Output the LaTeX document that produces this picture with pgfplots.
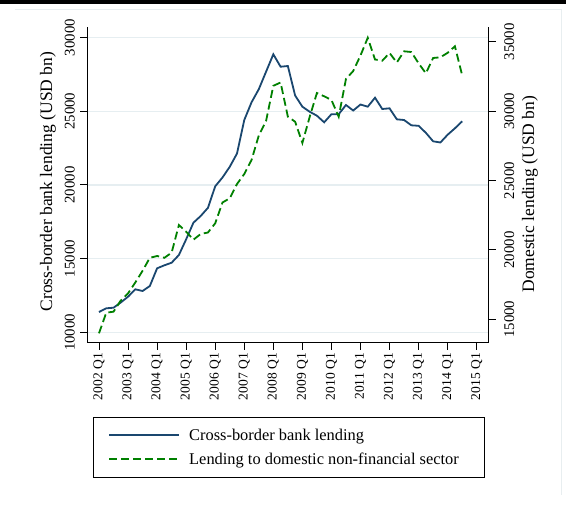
\documentclass[border=0pt]{standalone}
\usepackage{pgfplots}
\pgfplotsset{compat=1.18}
\usepackage{pgfplotstable}
\usepackage{fontspec}
\setmainfont{Liberation Serif}
\definecolor{navy}{RGB}{26,71,111}
\definecolor{sgreen}{RGB}{0,128,0}
\definecolor{gridc}{RGB}{230,238,241}
\definecolor{framec}{RGB}{232,238,240}

\pgfplotstableread{
q blue green
0 11377 13991
1 11628 15476
2 11669 15548
3 12022 16355
4 12415 16873
5 12917 17651
6 12802 18494
7 13141 19431
8 14342 19561
9 14545 19431
10 14722 19799
11 15244 21794
12 16309 21312
13 17435 20735
14 17890 21146
15 18446 21254
16 19905 21917
17 20502 23415
18 21228 23718
19 22130 24748
20 24402 25469
21 25603 26478
22 26492 28243
23 27679 29287
24 28860 31824
25 28018 32062
26 28066 29597
27 26065 29237
28 25305 27702
29 24965 29576
30 24694 31305
31 24246 31067
32 24796 30801
33 24796 29597
34 25420 32314
35 25047 32890
36 25454 34007
37 25305 35282
38 25915 33719
39 25149 33632
40 25196 34187
41 24450 33502
42 24402 34309
43 24043 34259
44 24009 33445
45 23534 32724
46 22957 33827
47 22876 33877
48 23405 34201
49 23839 34670
50 24314 32580
}\datatable

\begin{document}
\begin{tikzpicture}
\pgfplotsset{
  base/.style={
    scale only axis, width=401.4pt, height=316pt,
    at={(0,0)}, anchor=south west,
    xmin=-1.61, xmax=53.65,
    xtick={0,4,...,52},
    tick align=outside, major tick length=7pt,
    tick style={line width=0.9pt, black},
    axis line style={line width=0.9pt, black},
    /pgf/number format/assume math mode=true,
    /pgf/number format/1000 sep={},
    scaled y ticks=false,
  }
}
\begin{axis}[base,
  axis x line*=bottom, axis y line*=left,
  ymin=9295, ymax=30733, ytick={10000,15000,20000,25000,30000},
  ymajorgrids, grid style={gridc, line width=1.2pt},
  xticklabels={2002 Q1,2003 Q1,2004 Q1,2005 Q1,2006 Q1,2007 Q1,2008 Q1,2009 Q1,2010 Q1,2011 Q1,2012 Q1,2013 Q1,2014 Q1,2015 Q1},
  xticklabel style={rotate=90, anchor=east, font=\fontsize{13.5}{14}\selectfont},
  yticklabel style={rotate=90, anchor=south, font=\fontsize{14.8}{16}\selectfont},
  yticklabel shift=2pt,
  ylabel={Cross-border bank lending (USD bn)},
  every axis y label/.style={at={(axis description cs:-0.098,0.51)}, rotate=90, anchor=center, font=\fontsize{17.5}{18}\selectfont},
]
\addplot[navy, line width=1.8pt] table[x=q,y=blue]{\datatable};
\end{axis}
\begin{axis}[base,
  axis x line=none, axis y line*=right,
  ymin=13314, ymax=36082, ytick={15000,20000,25000,30000,35000},
  yticklabel style={rotate=90, anchor=north, font=\fontsize{14.8}{16}\selectfont},
  yticklabel shift=5pt,
  ylabel={Domestic lending (USD bn)},
  every axis y label/.style={at={(axis description cs:1.103,0.47)}, rotate=90, anchor=center, font=\fontsize{17.5}{18}\selectfont},
  legend cell align=left,
  legend image code/.code={\draw[#1] (0pt,0pt) -- (70pt,0pt);},
  legend style={at={(0.0142,-0.235)}, anchor=north west, draw=black, line width=0.8pt,
    font=\fontsize{16.4}{19}\selectfont, inner xsep=15pt, inner ysep=9.5pt, row sep=7pt, column sep=7pt},
]
\addlegendimage{navy, line width=1.8pt}
\addlegendentry{Cross-border bank lending}
\addplot[sgreen, line width=1.8pt, dash pattern=on 8pt off 4pt] table[x=q,y=green]{\datatable};
\addlegendentry{Lending to domestic non-financial sector\rule{9pt}{0pt}}
\end{axis}
\fill[black] (-87.3pt,342.7pt) rectangle (478.7pt,338.7pt);
\draw[framec, line width=1pt] (-72.3pt,333.4pt) -- (473.7pt,333.4pt) -- (473.7pt,-152.3pt);
\pgfresetboundingbox
\path[use as bounding box] (-87.3pt,-171.3pt) rectangle (478.7pt,342.7pt);
\end{tikzpicture}
\end{document}
